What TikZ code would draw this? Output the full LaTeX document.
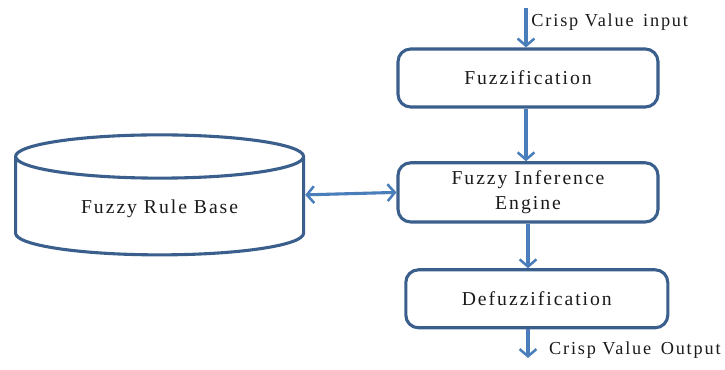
\documentclass[tikz,border=0pt]{standalone}
\usepackage{fontspec}
\usepackage{xcolor}
\usepackage{tikz}
\usetikzlibrary{arrows.meta,shapes.geometric}
\setmainfont{Liberation Serif}[LetterSpace=10]
\definecolor{boxborder}{HTML}{3A5F8C}
\definecolor{flowarrow}{HTML}{4A7EBB}
\definecolor{labelink}{HTML}{1A1A1A}

\begin{document}
\begin{tikzpicture}[
  text=labelink,
  line join=round,
  arr/.style={
    -{Straight Barb[length=1.8mm,width=4.2mm,line width=1.8pt]},
    draw=flowarrow,
    line width=2.2pt
  },
  twoway/.style={
    {Straight Barb[length=1.8mm,width=4.2mm,line width=1.8pt]}-%
    {Straight Barb[length=1.8mm,width=4.2mm,line width=1.8pt]},
    draw=flowarrow,
    line width=2.2pt
  },
  stage/.style={
    rectangle,
    rounded corners=9pt,
    draw=boxborder,
    fill=white,
    line width=2.2pt,
    minimum width=6.5cm,
    minimum height=1.45cm,
    align=center,
    font=\fontsize{14}{18}\selectfont
  },
  flowlabel/.style={
    anchor=west,
    inner sep=0pt,
    font=\fontsize{13}{15}\selectfont
  }
]
\useasboundingbox (0,0) rectangle (18.125,9.25);

% ------------------------------------------------------------
% Processing stages
% ------------------------------------------------------------

\node[stage] (fuzzifier) at (13.2,7.30) {Fuzzification};
\node[stage,minimum height=1.48cm] (inference) at (13.2,4.44)
  {Fuzzy Inference\\Engine};
\node[stage,minimum width=6.55cm] (defuzzifier) at (13.42,1.78)
  {Defuzzification};

\node[
  cylinder,
  shape border rotate=90,
  aspect=0.26,
  draw=boxborder,
  fill=white,
  line width=2.2pt,
  minimum width=7.2cm,
  minimum height=3.0cm,
  font=\fontsize{14}{18}\selectfont
] (rulebase) at (3.99,4.02) {Fuzzy Rule Base};

% ------------------------------------------------------------
% Crisp input and output
% ------------------------------------------------------------

\coordinate (crispin) at (13.15,9.05);
\coordinate (crispout) at (13.2,0.30);

\draw[arr] (crispin) -- (crispin |- fuzzifier.north);
\node[flowlabel] (inlabel) at (13.28,8.70) {Crisp Value\, input};

\draw[arr] (fuzzifier.south -| crispin) -- (inference.north -| crispin);
\draw[arr] (inference.south) -- (inference.south |- defuzzifier.north);
\draw[arr] (defuzzifier.south -| crispout) -- (crispout);
\node[flowlabel] (outlabel) at (13.72,0.50) {Crisp Value\, Output};

% rule base is read and updated by the engine
\draw[twoway] (rulebase.shape center -| rulebase.east) -- (inference.west);
\end{tikzpicture}
\end{document}
